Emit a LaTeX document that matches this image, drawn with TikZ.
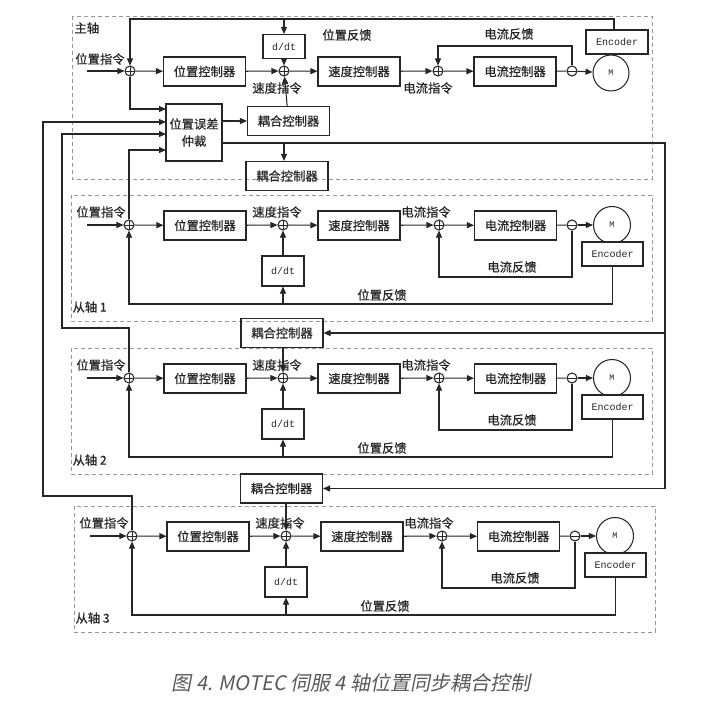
\documentclass[tikz,border=0pt]{standalone}
\usepackage{fontspec}
\setmainfont{Noto Sans CJK SC}
\setmonofont{Liberation Mono}
\newfontfamily\lblfont[FakeBold=0.6]{Noto Sans CJK SC}
\newfontfamily\capfont[FakeSlant=0.2]{Noto Sans CJK SC}
\usetikzlibrary{positioning,arrows.meta}

\begin{document}
\begin{tikzpicture}[
    x=1pt, y=-1pt,
    line width=1.05pt, color=black!85,
    block/.style={rectangle, draw, minimum width=82pt, minimum height=29pt, inner sep=0pt, font=\lblfont\fontsize{12.3}{14}\selectfont},
    ddtbox/.style={rectangle, draw, minimum width=42pt, minimum height=24pt, inner sep=0pt, font=\ttfamily\fontsize{10}{10}\selectfont},
    encbox/.style={rectangle, draw, fill=white, minimum width=61pt, minimum height=24pt, inner sep=0pt, font=\ttfamily\fontsize{10}{10}\selectfont},
    motor/.style={circle, draw, minimum size=37pt, inner sep=0pt, font=\ttfamily\fontsize{8.5}{8}\selectfont},
    sumnode/.style={circle, draw, fill=white, minimum size=10pt, inner sep=0pt,
        path picture={\draw[line width=0.7pt] (path picture bounding box.north) -- (path picture bounding box.south)
                      (path picture bounding box.west) -- (path picture bounding box.east);}},
    junc/.style={circle, draw, fill=white, minimum size=10pt, inner sep=0pt,
        path picture={\draw[line width=0.7pt] (path picture bounding box.west) -- (path picture bounding box.east);}},
    lbl/.style={inner sep=0pt, font=\lblfont\fontsize{12.3}{14}\selectfont},
    axisbox/.style={draw=black!40, line width=0.8pt, dash pattern=on 4pt off 3pt},
    arrow/.style={->, >={Triangle[length=7pt,width=6pt]}}
]
    \useasboundingbox (0,0) rectangle (706,719);

    % Main axis
    \draw[axisbox] (72,16) rectangle (652,179);
    \coordinate (min) at (87,71);
    \node[sumnode] (msum) at (130,71) {};
    \node[block] (mpc) at (204.5,71.5) {位置控制器};
    \node[sumnode] (mssum) at (284,71) {};
    \node[ddtbox] (mddt) at (284,46.5) {d/dt};
    \node[block] (msc) at (359,71.5) {速度控制器};
    \node[sumnode] (mcsum) at (438,71) {};
    \node[block] (mcc) at (515,71.5) {电流控制器};
    \node[junc] (mjunc) at (572,71) {};
    \node[motor, minimum size=36pt] (mmot) at (611,73) {M};
    \node[encbox, minimum width=62pt] (menc) at (617,42) {Encoder};
    \node[block, minimum width=56pt, minimum height=57pt, align=center] (arb) at (194,132.5) {位置误差\\[3pt]仲裁};
    \node[block] (mcpl) at (288.5,121) {耦合控制器};
    \node[block] (cpl0) at (287,176) {耦合控制器};
    \coordinate (mcfb) at (438,46);
    \coordinate (mpfb) at (130,19);

    \draw[arrow] (min) -- (msum);
    \draw[arrow] (msum) -- (mpc);
    \draw[arrow] (mpc) -- (mssum);
    \draw[arrow] (mssum) -- (msc);
    \draw[arrow] (msc) -- (mcsum);
    \draw[arrow] (mcsum) -- (mcc);
    \draw (mcc) -- (mjunc);
    \draw[arrow] (mjunc) -- (mmot);
    \draw[arrow] (mjunc) |- (mcfb) -- (mcsum);
    \draw[arrow] (menc.north -| 614,0) |- (mpfb) -- (msum);
    \draw[arrow] (mddt |- mpfb) -- (mddt);
    \draw[arrow] (mddt) -- (mssum);
    \draw[arrow] (arb.east |- mcpl) -- (mcpl);
    \draw[arrow] (mcpl) -- (mssum);

    \node[lbl, anchor=west] at (74,28) {主轴};
    \node[lbl] at (100,59) {位置指令};
    \node[lbl] at (347,35) {位置反馈};
    \node[lbl] at (277,88) {速度指令};
    \node[lbl] at (428,88) {电流指令};
    \node[lbl] at (509,34) {电流反馈};

    % Slave axes
    \foreach \i/\row/\dx in {1/225/0, 2/378/0, 3/536/3} {
      \begin{scope}[shift={(\dx,\row)}]
        \draw[axisbox] (71,-30) rectangle (652,96);
        \coordinate (in\i) at (87,0);
        \node[sumnode] (sum\i) at (129,0) {};
        \node[block] (pc\i) at (205,0.5) {位置控制器};
        \node[sumnode] (ss\i) at (283,0) {};
        \node[ddtbox, minimum height=30pt] (ddt\i) at (283,46) {d/dt};
        \node[block] (sc\i) at (359,0.5) {速度控制器};
        \node[sumnode] (cs\i) at (439,0) {};
        \node[block] (cc\i) at (515.5,0.5) {电流控制器};
        \node[junc] (jn\i) at (572,0) {};
        \node[motor] (mot\i) at (612,0) {M};
        \node[encbox] (enc\i) at (612.5,29) {Encoder};
        \coordinate (cfb\i) at (439,52);
        \coordinate (pfb\i) at (129,79);

        \draw[arrow] (in\i) -- (sum\i);
        \draw[arrow] (sum\i) -- (pc\i);
        \draw[arrow] (pc\i) -- (ss\i);
        \draw[arrow] (ss\i) -- (sc\i);
        \draw[arrow] (sc\i) -- (cs\i);
        \draw[arrow] (cs\i) -- (cc\i);
        \draw (cc\i) -- (jn\i);
        \draw[arrow] (jn\i) -- (mot\i);
        \draw[arrow] (jn\i) |- (cfb\i) -- (cs\i);
        \draw[arrow] (enc\i) |- (pfb\i) -- (sum\i);
        \draw[arrow] (ddt\i |- pfb\i) -- (ddt\i);
        \draw[arrow] (ddt\i) -- (ss\i);

        \node[lbl] at (101,-13) {位置指令};
        \node[lbl] at (277,-13) {速度指令};
        \node[lbl] at (426,-13) {电流指令};
        \node[lbl] at (512,42) {电流反馈};
        \node[lbl] at (382,70) {位置反馈};
        \node[lbl, anchor=west] at (72,82) {从轴 \i};
      \end{scope}
    }

    % Coupling between axes
    \node[block] (cpl1) at (282,333) {耦合控制器};
    \node[block] (cpl2) at (281.5,488.5) {耦合控制器};
    \coordinate (rt) at (665,143);
    \coordinate (arbin1) at (166,109);
    \coordinate (arbin2) at (166,122);
    \coordinate (arbin3) at (166,134);
    \coordinate (arbin4) at (166,150);

    \draw[arrow] (msum) |- (arbin1);
    \draw[arrow] (sum3) |- (43,496) |- (arbin2);
    \draw[arrow] (sum2) |- (62,328) |- (arbin3);
    \draw[arrow] (sum1) |- (arbin4);
    \draw[arrow] (arb.east |- rt) -- (rt) |- (cpl2);
    \draw[arrow] (rt |- cpl1) -- (cpl1);
    \draw[arrow] (mssum |- rt) -- (mssum |- cpl0.north);
    \draw[arrow] (cpl1.south -| ss2) -- (ss2);
    \draw[arrow] (cpl2.south -| ss3) -- (ss3);

    % Caption
    \node[font=\capfont\fontsize{20}{20}\selectfont, text=black!65] (cap) at (351,683) {图 4. MOTEC 伺服 4 轴位置同步耦合控制};
\end{tikzpicture}
\end{document}
